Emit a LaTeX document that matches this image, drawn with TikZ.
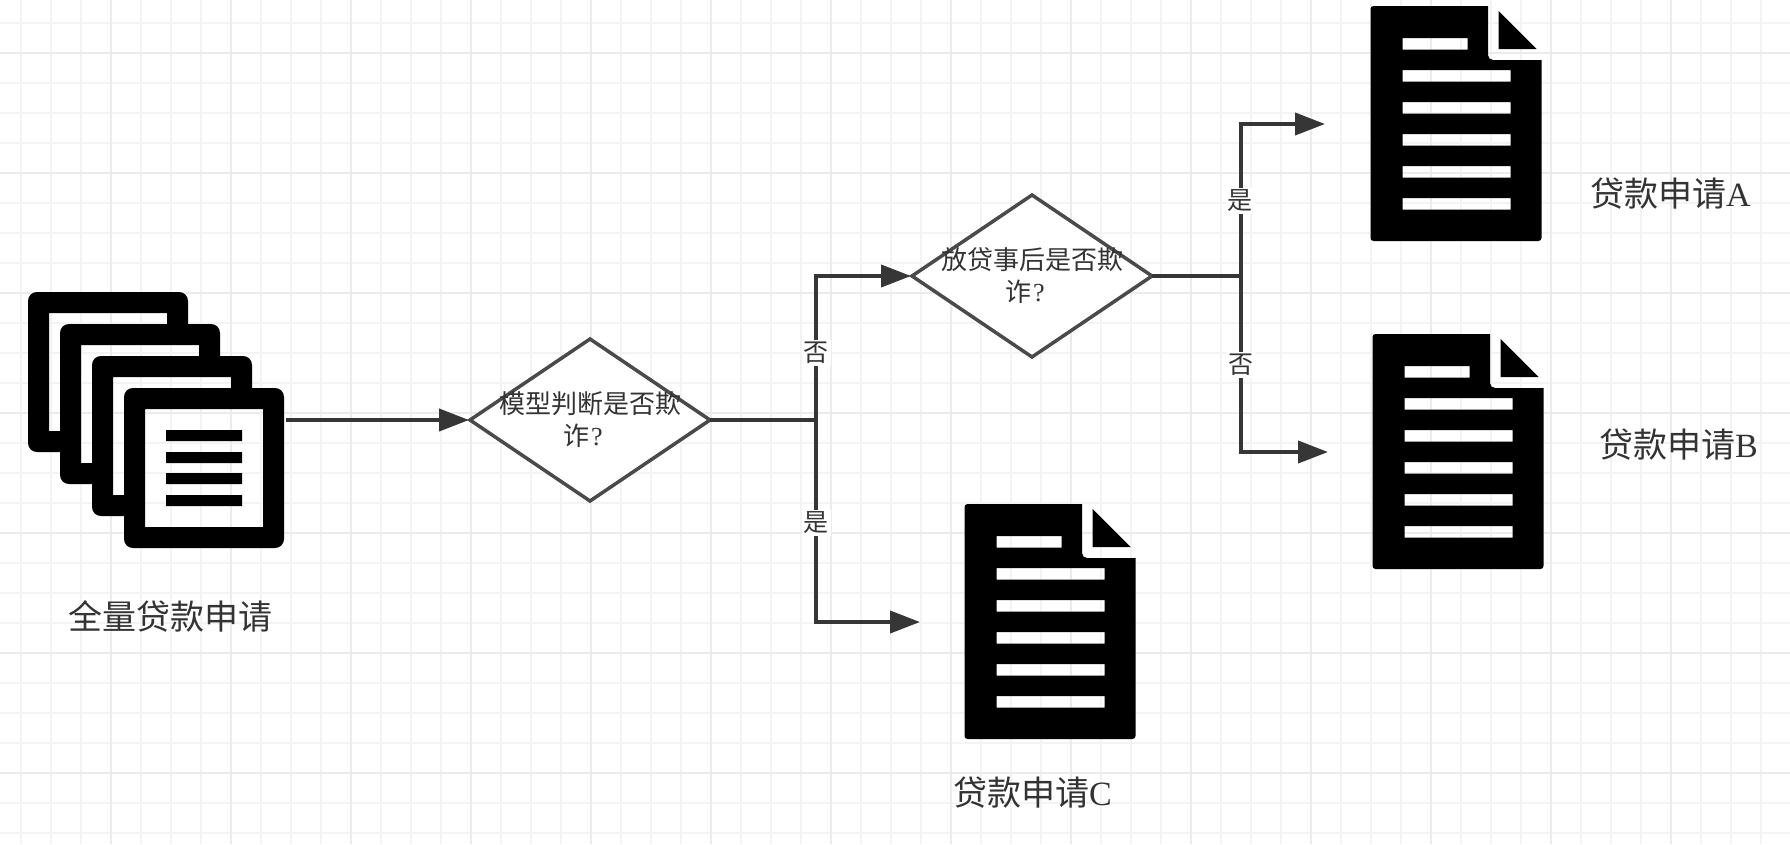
\documentclass[tikz,border=0pt]{standalone}
\usepackage{fontspec}
\setmainfont{Liberation Serif}
\newfontfamily\cjk{Noto Sans CJK SC}
\usetikzlibrary{shapes.geometric,arrows.meta}
\definecolor{gridmajor}{HTML}{EBEBEB}
\definecolor{gridminor}{HTML}{F3F3F3}
\definecolor{linecol}{HTML}{363636}
\definecolor{diacol}{HTML}{4A4A4A}
\definecolor{txtcol}{HTML}{333333}
\newcommand{\cardback}[2]{%
 \fill[black] (#1+160,#2+32) [rounded corners=9pt] -- (#1+160,#2) -- (#1,#2) -- (#1,#2+160) [sharp corners] -- (#1+32,#2+160) -- (#1+32,#2+139) -- (#1+21,#2+139) -- (#1+21,#2+21) -- (#1+139,#2+21) -- (#1+139,#2+32) -- cycle;}
\newcommand{\pagedoc}[2]{%
 \fill[black,even odd rule] (#1+117.5,#2) [rounded corners=3pt] -- (#1,#2) -- (#1,#2+235) -- (#1+171,#2+235) [sharp corners] -- (#1+171,#2+54) [rounded corners=5pt] -- (#1+117.5,#2+54) [sharp corners] -- cycle
 (#1+32,#2+32) rectangle (#1+97,#2+43.5)
 (#1+32,#2+64) rectangle (#1+140,#2+75.5)
 (#1+32,#2+96) rectangle (#1+140,#2+107.5)
 (#1+32,#2+128) rectangle (#1+140,#2+139.5)
 (#1+32,#2+160) rectangle (#1+140,#2+171.5)
 (#1+32,#2+192) rectangle (#1+140,#2+203.5);
 \fill[black] (#1+128,#2+5) -- (#1+166,#2+43) -- (#1+128,#2+43) -- cycle;}
\tikzset{
 connline/.style={draw=linecol,line width=4pt},
 connarrow/.style={connline,-{Triangle[length=30pt,width=22pt]}},
 decision/.style={draw=diacol,fill=white,line width=3.5pt,diamond,aspect=1.48,minimum width=240pt,minimum height=162pt,inner sep=0pt,outer sep=0pt},
 dtext/.style={text=txtcol,align=center,inner sep=0pt,font=\fontsize{26}{32}\selectfont\cjk},
 edgetext/.style={text=txtcol,fill=white,inner sep=2pt,font=\fontsize{25}{25}\selectfont\cjk},
 captiontext/.style={text=txtcol,inner sep=0pt,anchor=west,font=\fontsize{34}{36}\selectfont\cjk},
}
\begin{document}
\begin{tikzpicture}[x=1pt,y=-1pt]
\useasboundingbox (0,0) rectangle (1790,844);
\fill[white] (0,0) rectangle (1790,844);
% grid
\foreach \gx in {21,51,...,1791} \draw[gridminor,line width=1.5pt] (\gx,0) -- (\gx,844);
\foreach \gy in {23,53,...,844} \draw[gridminor,line width=1.5pt] (0,\gy) -- (1790,\gy);
\foreach \gx in {111,231,...,1791} \draw[gridmajor,line width=2pt] (\gx,0) -- (\gx,844);
\foreach \gy in {53,173,...,844} \draw[gridmajor,line width=2pt] (0,\gy) -- (1790,\gy);
% stack
\cardback{28}{292}
\cardback{60}{324}
\cardback{92}{356}
\fill[black,even odd rule] [rounded corners=9pt] (124,388) rectangle (284,548) [sharp corners] (145,409) rectangle (263,527);
\fill[black] (166,430) rectangle (242,441) (166,452) rectangle (242,463) (166,473) rectangle (242,484) (166,495) rectangle (242,506);
\pagedoc{1370.5}{6}
\pagedoc{1372.5}{334}
\pagedoc{964.5}{504}
% nodes
\coordinate (stackout) at (286,420);
\node[decision] (d1) at (590,420) {};
\node[dtext] (d1t) at (590,420) {模型判断是否欺\\诈{\rmfamily\hspace{2pt}?}\hspace*{14pt}};
\node[decision] (d2) at (1032,276) {};
\node[dtext] (d2t) at (1032,276) {放贷事后是否欺\\诈{\rmfamily\hspace{2pt}?}\hspace*{14pt}};
\coordinate (j1) at (815.5,420);
\coordinate (j2) at (1240.5,276);
\coordinate (tipA) at (1325,124);
\coordinate (tipB) at (1328,452);
\coordinate (tipC) at (920,622);
\draw[connarrow,shorten >=1pt] (stackout) -- (d1.west);
\draw[connline,line width=4.5pt] (d1.east) -- (j1);
\draw[connarrow,shorten >=1pt] (j1) |- (d2.west);
\draw[connarrow] (j1) |- (tipC);
\draw[connline,line width=4.5pt] (d2.east) -- (j2);
\draw[connarrow] (j2) |- (tipA);
\draw[connarrow] (j2) |- (tipB);
\node[edgetext] (l1) at (816,353) {否};
\node[edgetext] (l2) at (816,523) {是};
\node[edgetext] (l3) at (1240,201) {是};
\node[edgetext] (l4) at (1241,365) {否};
\node[captiontext] (c0) at (68,616) {全量贷款申请};
\node[captiontext] (cA) at (1590,194) {贷款申请{\rmfamily A}};
\node[captiontext] (cB) at (1599,445) {贷款申请{\rmfamily B}};
\node[captiontext] (cC) at (953,793) {贷款申请{\rmfamily C}};
\end{tikzpicture}
\end{document}
